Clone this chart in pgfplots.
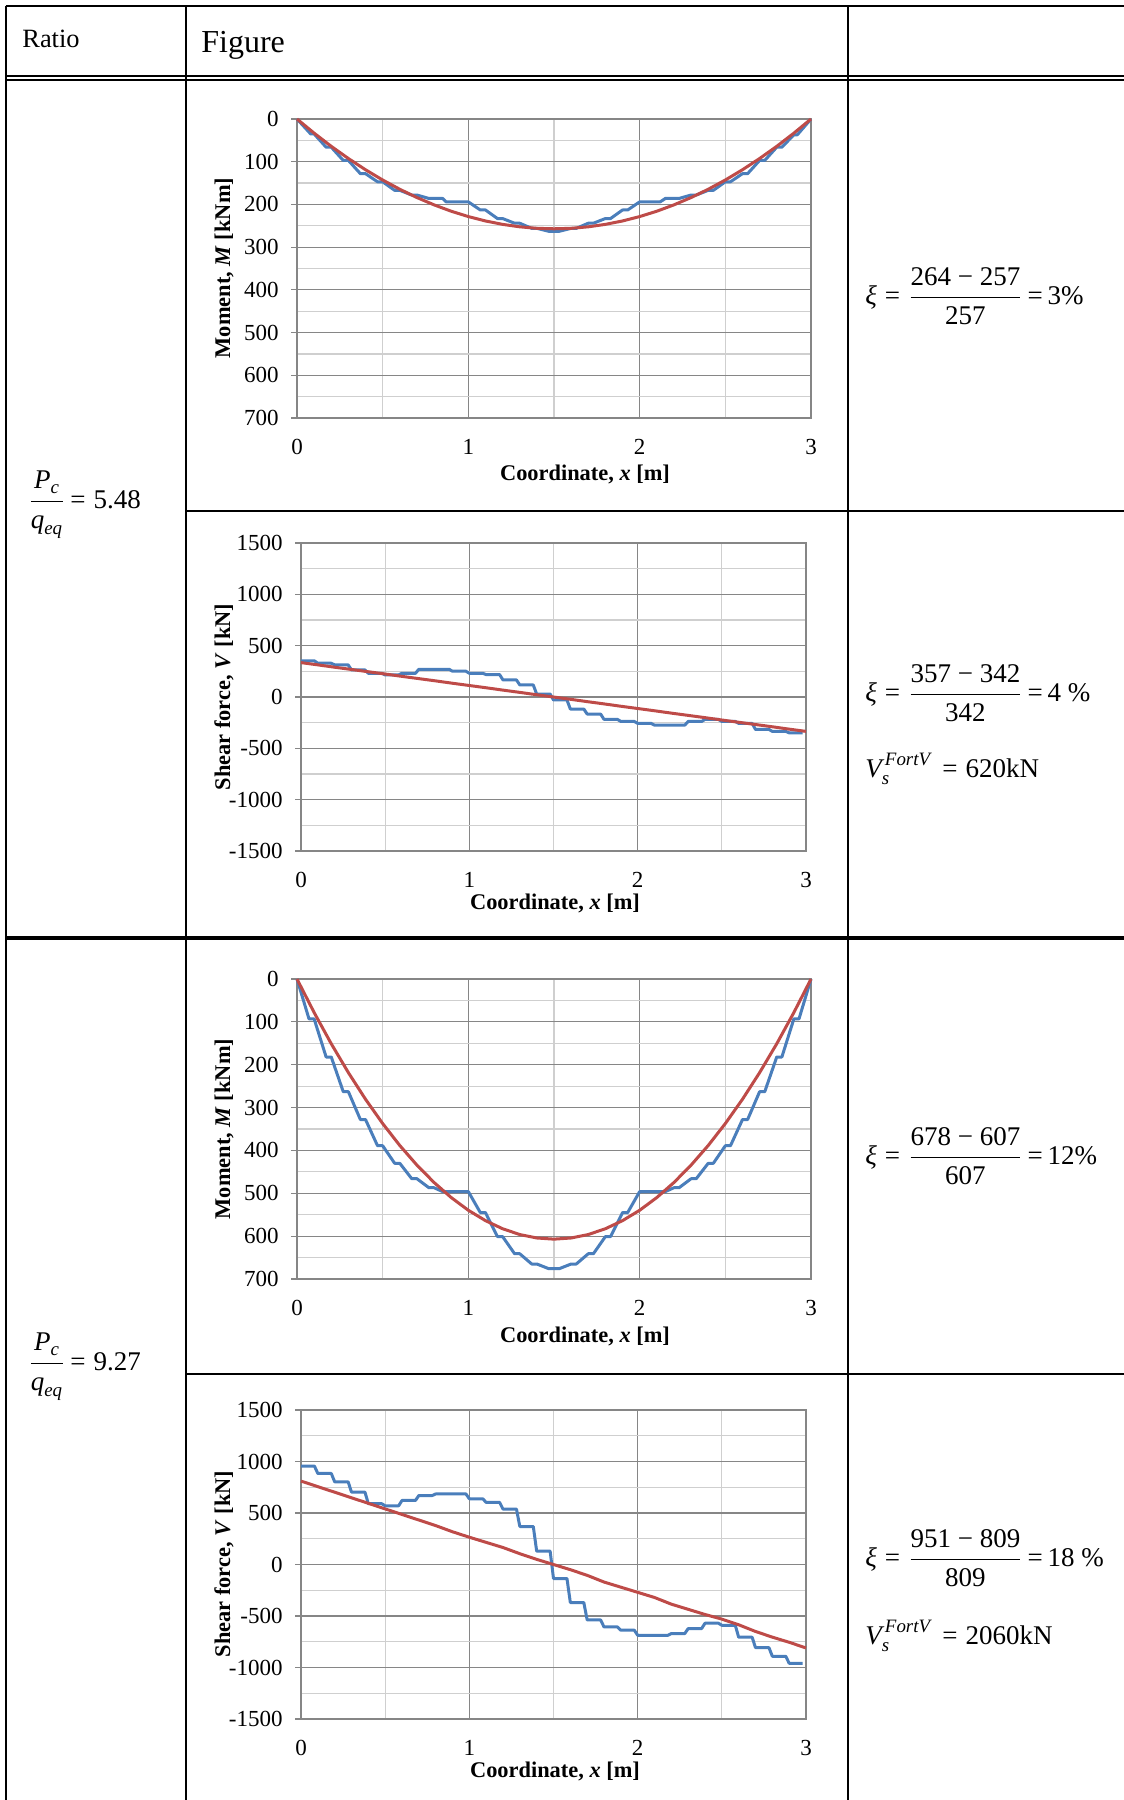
\documentclass[border=0pt]{standalone}
\usepackage{fontspec}
\setmainfont{Liberation Serif}
\usepackage{amsmath}
\usepackage{pgfplots}
\pgfplotsset{compat=1.18}
\definecolor{xblue}{HTML}{4A7EBB}
\definecolor{xred}{HTML}{BE4B48}
\definecolor{gmaj}{HTML}{868686}
\definecolor{gmin}{HTML}{CFCFCF}
\newcommand{\tickfont}{\fontsize{11.5}{13}\selectfont}
\newcommand{\labfont}{\fontsize{11.2}{13}\selectfont\bfseries}
\newcommand{\eqfont}{\fontsize{13.5}{16}\selectfont\thickmuskip=3mu plus 1mu}
\newcommand{\ti}[1]{\text{\itshape #1}}
\newcommand{\teq}{\text{=}}
\pgfplotsset{
  excel/.style={
    scale only axis,
    xmin=0, xmax=3,
    xtick={0,1,2,3}, xticklabels={0,1,2,3},
    minor xtick={0.5,1.5,2.5},
    grid=both,
    major grid style={draw=gmaj, line width=0.6pt},
    minor grid style={draw=gmin, line width=0.6pt},
    axis line style={draw=gmaj, line width=0.7pt},
    tick style={draw=gmaj, line width=0.6pt},
    minor tick length=0pt,
    major tick length=3pt,
    tick align=outside,
    ytick pos=left,
    xtick style={draw=none},
    ticklabel style={font=\tickfont},
    yticklabel style={anchor=east, inner sep=0pt, xshift=-6pt},
    xticklabel style={anchor=center, inner sep=0pt, yshift=-11.5pt},
    clip=false,
  },
  moment/.style={excel, y dir=reverse, ymin=0, ymax=700,
    ytick={0,100,200,300,400,500,600,700},
    yticklabels={0,100,200,300,400,500,600,700},
    minor ytick={50,150,250,350,450,550,650},
    xticklabel pos=lower},
  shear/.style={excel, ymin=-1500, ymax=1500,
    ytick={-1500,-1000,-500,0,500,1000,1500},
    yticklabels={-1500,-1000,-500,0,500,1000,1500},
    minor ytick={-1250,-750,-250,250,750,1250}},
  bl/.style={draw=xblue, line width=1.5pt, line join=round, no marks},
  rd/.style={draw=xred, line width=1.5pt, line join=round, no marks},
}
\begin{document}
\begin{tikzpicture}
\begin{scope}[x=0.5pt,y=-0.5pt]
\path[use as bounding box] (0,0) rectangle (1124,1800);
% table rules
\draw[line width=1pt] (5.5,6) -- (1124,6);
\draw[line width=0.9pt] (5.5,76) -- (1124,76);
\draw[line width=0.9pt] (5.5,80) -- (1124,80);
\draw[line width=1.2pt] (6,5.5) -- (6,1800);
\draw[line width=1.3pt] (186,6) -- (186,1800);
\draw[line width=1.3pt] (848,6) -- (848,1800);
\draw[line width=1.3pt] (186,511) -- (1124,511);
\draw[line width=2pt] (6,938) -- (1124,938);
\draw[line width=1.3pt] (186,1374) -- (1124,1374);
% header
\node[anchor=west, inner sep=0pt, font=\fontsize{13.2}{15}\selectfont] at (22,39) {Ratio};
\node[anchor=west, inner sep=0pt, font=\fontsize{16}{18}\selectfont] at (201,45) {Figure};
% ratio cells
\node[anchor=west, inner sep=0pt] at (28,505) {\eqfont $\dfrac{\ti{P}_{\ti{c}}}{\ti{q}_{\ti{eq}}}\mskip3mu\teq\mskip5mu\text{5.48}$};
\node[anchor=west, inner sep=0pt] at (28,1367) {\eqfont $\dfrac{\ti{P}_{\ti{c}}}{\ti{q}_{\ti{eq}}}\mskip3mu\teq\mskip5mu\text{9.27}$};
% right column formulas
\node[anchor=west, inner sep=0pt] at (865,296) {\eqfont $\ti{ξ}\mskip5mu\teq\mskip5mu\dfrac{\text{264 − 257}}{\text{257}}\mskip3mu\teq\mskip3mu\text{3\%}$};
\node[anchor=west, inner sep=0pt] at (865,693) {\eqfont $\ti{ξ}\mskip5mu\teq\mskip5mu\dfrac{\text{357 − 342}}{\text{342}}\mskip3mu\teq\mskip3mu\text{4 \%}$};
\node[anchor=west, inner sep=0pt] at (865,769) {\eqfont $\ti{V}_{\ti{s}}^{\,\ti{FortV}}\mskip7mu\teq\mskip5mu\text{620kN}$};
\node[anchor=west, inner sep=0pt] at (865,1156) {\eqfont $\ti{ξ}\mskip5mu\teq\mskip5mu\dfrac{\text{678 − 607}}{\text{607}}\mskip3mu\teq\mskip3mu\text{12\%}$};
\node[anchor=west, inner sep=0pt] at (865,1558) {\eqfont $\ti{ξ}\mskip5mu\teq\mskip5mu\dfrac{\text{951 − 809}}{\text{809}}\mskip3mu\teq\mskip3mu\text{18 \%}$};
\node[anchor=west, inner sep=0pt] at (865,1636) {\eqfont $\ti{V}_{\ti{s}}^{\,\ti{FortV}}\mskip7mu\teq\mskip5mu\text{2060kN}$};
% axis titles
\node[font=\labfont] at (585,474) {Coordinate, \textit{x} [m]};
\node[font=\labfont, rotate=90] at (224,268) {Moment, \textit{M} [kNm]};
\node[font=\labfont] at (555,903) {Coordinate, \textit{x} [m]};
\node[font=\labfont, rotate=90] at (224,697) {Shear force, \textit{V} [kN]};
\node[font=\labfont] at (585,1336) {Coordinate, \textit{x} [m]};
\node[font=\labfont, rotate=90] at (224,1129) {Moment, \textit{M} [kNm]};
\node[font=\labfont] at (555,1771) {Coordinate, \textit{x} [m]};
\node[font=\labfont, rotate=90] at (224,1564) {Shear force, \textit{V} [kN]};
\end{scope}

% ---------- Plot 1: moment, ratio 5.48
\begin{axis}[moment, at={(148.5pt,-59.5pt)}, anchor=north west, width=257pt, height=149.5pt]
\addplot[bl] table {
0 0
0.08 35
0.1 35
0.17 66
0.2 66
0.27 97
0.3 97
0.37 128
0.4 128
0.47 147
0.5 147
0.57 167
0.6 167
0.67 178
0.7 178
0.77 186
0.85 186
0.87 194
1.0 194
1.07 213
1.1 213
1.17 233
1.2 233
1.27 244
1.3 244
1.37 256
1.4 256
1.47 263
1.53 263
1.6 256
1.63 256
1.7 244
1.73 244
1.8 233
1.83 233
1.9 213
1.93 213
2.0 194
2.12 194
2.15 186
2.23 186
2.3 178
2.33 178
2.4 167
2.43 167
2.5 147
2.53 147
2.6 128
2.63 128
2.7 97
2.73 97
2.8 66
2.83 66
2.9 37
2.92 37
3.0 0
};
\addplot[rd] table {
0 0
0.1 33.1
0.2 64.0
0.3 92.5
0.4 118.8
0.5 142.8
0.6 164.5
0.7 183.9
0.8 201.0
0.9 215.9
1.0 228.4
1.1 238.7
1.2 246.7
1.3 252.4
1.4 255.9
1.5 257.0
1.6 255.9
1.7 252.4
1.8 246.7
1.9 238.7
2.0 228.4
2.1 215.9
2.2 201.0
2.3 183.9
2.4 164.5
2.5 142.8
2.6 118.8
2.7 92.5
2.8 64.0
2.9 33.1
3.0 0
};
\end{axis}

% ---------- Plot 2: shear, ratio 5.48
\begin{axis}[shear, at={(150.5pt,-271.5pt)}, anchor=north west, width=252.5pt, height=154pt]
\addplot[bl] table {
0 352
0.08 352
0.1 329
0.18 329
0.2 313
0.28 313
0.3 264
0.38 264
0.4 231
0.48 231
0.5 215
0.58 215
0.6 231
0.68 231
0.7 270
0.78 270
0.8 270
0.88 270
0.9 251
0.98 251
1.0 231
1.08 231
1.1 218
1.18 218
1.2 166
1.28 166
1.3 117
1.38 117
1.4 29
1.48 29
1.5 -29
1.58 -29
1.6 -117
1.68 -117
1.7 -166
1.78 -166
1.8 -218
1.88 -218
1.9 -238
1.98 -238
2.0 -257
2.08 -257
2.1 -274
2.18 -274
2.2 -274
2.28 -274
2.3 -238
2.38 -238
2.4 -218
2.48 -218
2.5 -238
2.58 -238
2.6 -257
2.68 -257
2.7 -316
2.78 -316
2.8 -335
2.88 -335
2.9 -349
2.98 -349
};
\addplot[rd] table {
0 335
0.1 313
0.2 290
0.3 268
0.4 246
0.5 224
0.6 201
0.7 179
0.8 157
0.9 134
1.0 112
1.1 90
1.2 67
1.3 45
1.4 22
1.5 0
1.6 -22
1.7 -45
1.8 -67
1.9 -90
2.0 -112
2.1 -134
2.2 -157
2.3 -179
2.4 -201
2.5 -224
2.6 -246
2.7 -268
2.8 -290
2.9 -313
3.0 -335
};
\end{axis}

% ---------- Plot 3: moment, ratio 9.27
\begin{axis}[moment, at={(148.5pt,-489.5pt)}, anchor=north west, width=257pt, height=150pt]
\addplot[bl] table {
0 0
0.07 93
0.1 93
0.17 182
0.2 182
0.27 263
0.3 263
0.37 328
0.4 328
0.47 389
0.5 389
0.57 430
0.6 430
0.67 466
0.7 466
0.77 487
0.8 487
0.85 496
1.0 496
1.07 545
1.1 545
1.17 601
1.2 601
1.27 641
1.3 641
1.37 665
1.4 665
1.47 676
1.53 676
1.6 665
1.63 665
1.7 641
1.73 641
1.8 601
1.83 601
1.9 545
1.93 545
2.0 496
2.15 496
2.2 487
2.23 487
2.3 466
2.33 466
2.4 430
2.43 430
2.5 389
2.53 389
2.6 328
2.63 328
2.7 263
2.73 263
2.8 182
2.83 182
2.9 93
2.93 93
3.0 0
};
\addplot[rd] table {
0 0
0.1 78.2
0.2 151.1
0.3 218.5
0.4 280.6
0.5 337.2
0.6 388.5
0.7 434.3
0.8 474.8
0.9 509.9
1.0 539.6
1.1 563.8
1.2 582.7
1.3 596.2
1.4 604.3
1.5 607.0
1.6 604.3
1.7 596.2
1.8 582.7
1.9 563.8
2.0 539.6
2.1 509.9
2.2 474.8
2.3 434.3
2.4 388.5
2.5 337.2
2.6 280.6
2.7 218.5
2.8 151.1
2.9 78.2
3.0 0
};
\end{axis}

% ---------- Plot 4: shear, ratio 9.27
\begin{axis}[shear, at={(150.5pt,-705pt)}, anchor=north west, width=252.5pt, height=154.5pt]
\addplot[bl] table {
0 955
0.08 955
0.1 884
0.18 884
0.2 803
0.28 803
0.3 703
0.38 703
0.4 590
0.48 590
0.5 570
0.58 570
0.6 622
0.68 622
0.7 670
0.78 670
0.8 685
0.98 685
1.0 638
1.08 638
1.1 603
1.18 603
1.2 538
1.28 538
1.3 369
1.38 369
1.4 130
1.48 130
1.5 -136
1.58 -136
1.6 -369
1.68 -369
1.7 -538
1.78 -538
1.8 -606
1.88 -606
1.9 -638
1.98 -638
2.0 -687
2.18 -687
2.2 -670
2.28 -670
2.3 -622
2.38 -622
2.4 -570
2.48 -570
2.5 -590
2.58 -590
2.6 -706
2.68 -706
2.7 -807
2.78 -807
2.8 -891
2.88 -891
2.9 -959
2.98 -959
};
\addplot[rd] table {
0 810
0.1 756
0.2 702
0.3 648
0.4 594
0.5 540
0.6 486
0.7 432
0.8 378
0.9 318
1.0 265
1.1 215
1.2 165
1.3 105
1.4 50
1.5 0
1.6 -50
1.7 -105
1.8 -170
1.9 -220
2.0 -270
2.1 -320
2.2 -385
2.3 -435
2.4 -485
2.5 -530
2.6 -585
2.7 -650
2.8 -705
2.9 -755
3.0 -810
};
\end{axis}
\end{tikzpicture}
\end{document}
